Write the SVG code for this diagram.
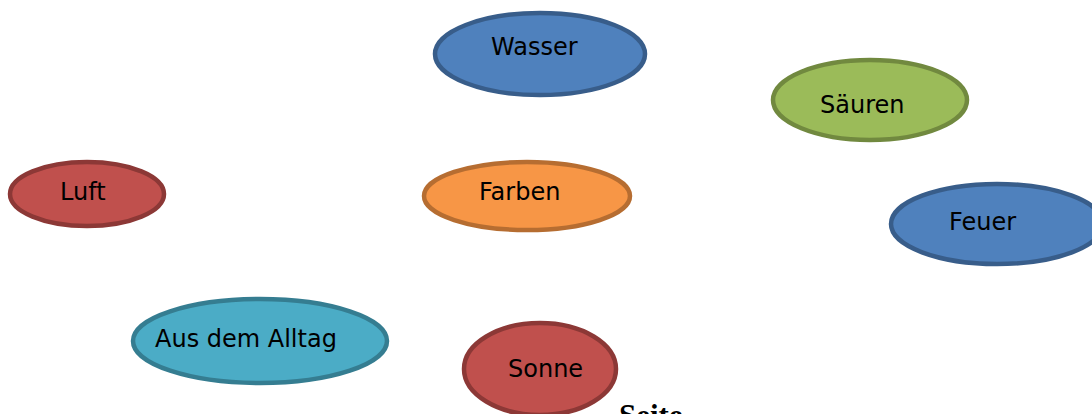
<svg xmlns="http://www.w3.org/2000/svg" width="1092" height="414" viewBox="0 0 1092 414">
<style>
.n ellipse{stroke-width:4.5}
.blue{fill:#4f81bd;stroke:#385d8a}
.green{fill:#9bbb59;stroke:#71893f}
.red{fill:#c0504d;stroke:#8c3836}
.orange{fill:#f79646;stroke:#b66d31}
.teal{fill:#4bacc6;stroke:#357d91}
.n text{font-family:"DejaVu Sans","Liberation Sans",sans-serif;font-size:24px;fill:#000}
.page{font-family:"Liberation Serif",serif;font-weight:bold;font-size:31px;fill:#000}
</style>
<rect width="1092" height="414" fill="#fff"/>
<g id="connectors"></g>
<g id="wasser" class="n"><ellipse class="blue" cx="540" cy="54" rx="105" ry="41"/><text x="491" y="55">Wasser</text></g>
<g id="saeuren" class="n"><ellipse class="green" cx="870" cy="100" rx="97" ry="40"/><text x="820" y="113">Säuren</text></g>
<g id="luft" class="n"><ellipse class="red" cx="87" cy="194" rx="77" ry="32"/><text x="60" y="200">Luft</text></g>
<g id="farben" class="n"><ellipse class="orange" cx="527" cy="196" rx="103" ry="34"/><text x="479" y="200">Farben</text></g>
<g id="feuer" class="n"><ellipse class="blue" cx="997" cy="224" rx="106" ry="40"/><text x="949" y="230">Feuer</text></g>
<g id="alltag" class="n"><ellipse class="teal" cx="260" cy="341" rx="127" ry="42"/><text x="155" y="347">Aus dem Alltag</text></g>
<g id="sonne" class="n"><ellipse class="red" cx="540" cy="369" rx="76" ry="46"/><text x="508" y="377">Sonne</text></g>
<text class="page" x="619" y="426">Seite</text>
</svg>
